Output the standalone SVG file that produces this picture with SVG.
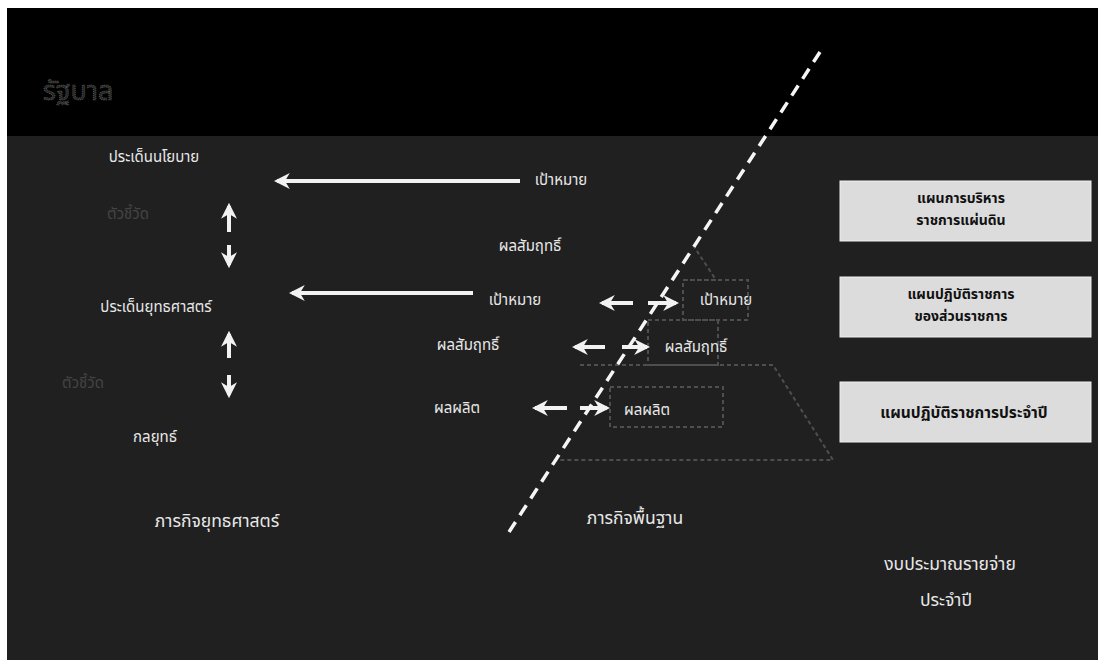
<svg xmlns="http://www.w3.org/2000/svg" width="1098" height="662" viewBox="0 0 1098 662">
<defs>
<style>
.t{font-family:"Noto Sans Thai","Noto Sans","DejaVu Sans",sans-serif;fill:#e8e8e8;font-size:15px;text-anchor:middle}
.big{font-size:17.5px}
.faint{fill:#444}
.bx{fill:#dcdcdc;stroke:#f0f0f0;stroke-width:1}
.bt{font-family:"Noto Sans Thai","Noto Sans","DejaVu Sans",sans-serif;fill:#111;font-size:14px;font-weight:bold;text-anchor:middle}
.bt2{font-size:15.5px}
.arr{stroke:#f2f2f2;stroke-width:4;fill:none}
.py{stroke:#4e4e4e;stroke-width:2;stroke-dasharray:4 3;fill:none}
</style>
<marker id="ah" viewBox="0 0 10 10" refX="8" refY="5" markerWidth="4" markerHeight="4" orient="auto-start-reverse" markerUnits="strokeWidth">
<path d="M0,0 L10,5 L0,10 L3,5 Z" fill="#f2f2f2"/>
</marker>
</defs>
<rect x="0" y="0" width="1098" height="662" fill="#ffffff"/>
<rect x="7" y="8" width="1091" height="128" fill="#000000"/>
<rect x="7" y="136" width="1091" height="524" fill="#202020"/>

<g id="title"><text x="78" y="100" font-family="Noto Sans Thai,Noto Sans,sans-serif" font-size="27" fill="#262626" stroke="#7a7a7a" stroke-width="0.6" stroke-dasharray="1 1" text-anchor="middle">รัฐบาล</text></g>

<g id="pyramid">
<path class="py" d="M693,245 L716,280 L683,280"/>
<rect class="py" x="683" y="280" width="65" height="40"/>
<rect class="py" x="648" y="320" width="70" height="45"/>
<path class="py" d="M580,365 L773,365 L833,460 L555,460"/>
<rect class="py" x="610" y="387" width="113" height="40"/>
<text class="t" x="726" y="305">เป้าหมาย</text>
<text class="t" x="696" y="352">ผลสัมฤทธิ์</text>
<text class="t" x="647" y="415">ผลผลิต</text>
</g>

<g id="left-column">
<text class="t" x="154" y="162">ประเด็นนโยบาย</text>
<text class="t faint" x="128" y="219">ตัวชี้วัด</text>
<text class="t" x="156" y="312">ประเด็นยุทธศาสตร์</text>
<text class="t faint" x="83" y="388">ตัวชี้วัด</text>
<text class="t" x="155" y="442">กลยุทธ์</text>
<text class="t big" x="217" y="527">ภารกิจยุทธศาสตร์</text>
</g>

<g id="middle-column">
<text class="t" x="561" y="185">เป้าหมาย</text>
<text class="t" x="530" y="251">ผลสัมฤทธิ์</text>
<text class="t" x="515" y="305">เป้าหมาย</text>
<text class="t" x="468" y="350">ผลสัมฤทธิ์</text>
<text class="t" x="457" y="413">ผลผลิต</text>
<text class="t big" x="635" y="524">ภารกิจพื้นฐาน</text>
</g>

<g id="right-column">
<g id="box1"><rect class="bx" x="840" y="181" width="251" height="60"/>
<text class="bt" x="961" y="203">แผนการบริหาร</text>
<text class="bt" x="961" y="225">ราชการแผ่นดิน</text></g>
<g id="box2"><rect class="bx" x="840" y="277" width="251" height="60"/>
<text class="bt" x="961" y="299">แผนปฏิบัติราชการ</text>
<text class="bt" x="961" y="321">ของส่วนราชการ</text></g>
<g id="box3"><rect class="bx" x="840" y="382" width="251" height="60"/>
<text class="bt bt2" x="964" y="418">แผนปฏิบัติราชการประจำปี</text></g>
<text class="t big" x="950" y="570">งบประมาณรายจ่าย</text>
<text class="t big" x="946" y="606">ประจำปี</text>
</g>

<g id="connectors">
<line class="arr" x1="520" y1="181" x2="277" y2="181" marker-end="url(#ah)"/>
<line class="arr" x1="473" y1="293" x2="292" y2="293" marker-end="url(#ah)"/>
<line class="arr" x1="229" y1="232" x2="229" y2="206" marker-end="url(#ah)"/>
<line class="arr" x1="229" y1="245" x2="229" y2="265" marker-end="url(#ah)"/>
<line class="arr" x1="229" y1="358" x2="229" y2="334" marker-end="url(#ah)"/>
<line class="arr" x1="229" y1="375" x2="229" y2="395" marker-end="url(#ah)"/>
<line class="arr" x1="633" y1="303" x2="602" y2="303" marker-end="url(#ah)"/>
<line class="arr" x1="648" y1="303" x2="676" y2="303" marker-end="url(#ah)"/>
<line class="arr" x1="605" y1="347" x2="575" y2="347" marker-end="url(#ah)"/>
<line class="arr" x1="622" y1="347" x2="647" y2="347" marker-end="url(#ah)"/>
<line class="arr" x1="567" y1="408" x2="535" y2="408" marker-end="url(#ah)"/>
<line class="arr" x1="580" y1="408" x2="607" y2="408" marker-end="url(#ah)"/>
<line x1="820" y1="52" x2="509" y2="532" stroke="#f5f5f5" stroke-width="3.5" stroke-dasharray="12 8"/>
</g>
</svg>
